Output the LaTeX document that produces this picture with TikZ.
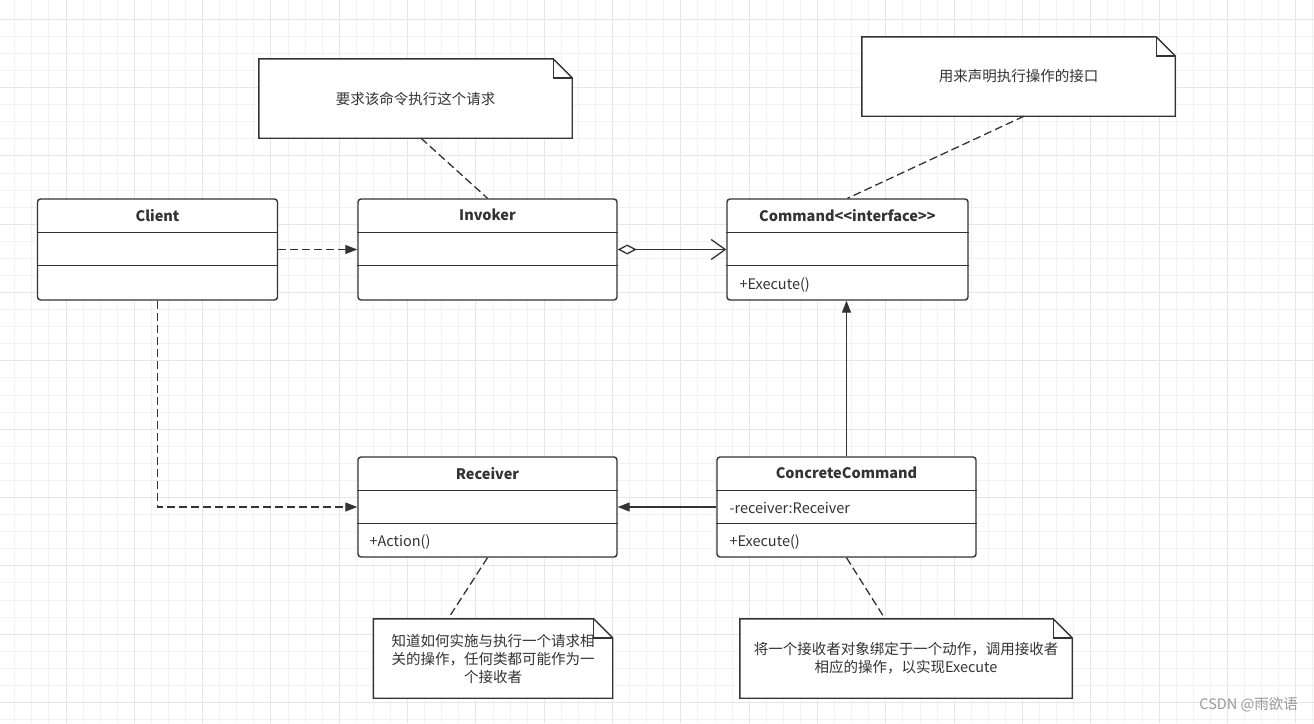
\documentclass[tikz,border=0pt]{standalone}
\usepackage{fontspec}
\setmainfont{Noto Sans CJK SC}
\usetikzlibrary{arrows.meta, calc}

\definecolor{linec}{HTML}{333333}
\definecolor{textc}{HTML}{333333}
\definecolor{gridminor}{HTML}{F2F2F2}
\definecolor{gridmajor}{HTML}{E6E6E6}

\pgfdeclarelayer{back}
\pgfsetlayers{back,main}

\begin{document}
\begin{tikzpicture}[x=1pt, y=-1pt,
    classbox/.style={draw=linec, line width=1.4pt, rounded corners=3pt, fill=white,
      inner sep=0pt, minimum height=101pt},
    divider/.style={linec, line width=1.4pt},
    titletext/.style={text=textc, font=\fontsize{14.5}{18}\selectfont\bfseries, inner sep=0pt},
    membertext/.style={anchor=west, text=textc, font=\fontsize{14.5}{18}\selectfont, inner sep=0pt},
    notebox/.style={inner sep=0pt, minimum height=79pt, align=center, text=textc,
      font=\fontsize{14.5}{18}\selectfont},
    link/.style={linec, line width=1.3pt},
    dashlink/.style={link, dash pattern=on 8pt off 4pt},
    depend/.style={dashlink, -{Triangle[length=12pt, width=9pt]}},
    realize/.style={link, -{Triangle[length=12pt, width=9pt]}},
    aggregate/.style={link, {Diamond[open, length=19pt, width=10pt]}-{Straight Barb[length=14pt, width=20pt]}}]

  \useasboundingbox (0,0) rectangle (1314,723);

  % Draw the grid
  \begin{pgfonlayer}{back}
    \fill[white] (0,0) rectangle (1314,723);
    \foreach \gx in {14.76,31.84,...,1314}
      \draw[gridminor, line width=1pt] (\gx,0) -- (\gx,723);
    \foreach \gy in {19.3,36.38,...,723}
      \draw[gridminor, line width=1pt] (0,\gy) -- (1314,\gy);
    \foreach \gx in {66,134.32,...,1314}
      \draw[gridmajor, line width=1pt] (\gx,0) -- (\gx,723);
    \foreach \gy in {19.3,87.62,...,723}
      \draw[gridmajor, line width=1pt] (0,\gy) -- (1314,\gy);
  \end{pgfonlayer}

  % Draw the classes
  \node[classbox, minimum width=240pt] (client) at (157.5,249.5) {};
  \node[classbox, minimum width=259pt] (invoker) at (487.5,249.5) {};
  \node[classbox, minimum width=241pt] (command) at (847.5,249.5) {};
  \node[classbox, minimum width=259pt, minimum height=100pt] (receiver) at (487.5,507) {};
  \node[classbox, minimum width=259pt, minimum height=100pt] (concrete) at (846.5,507) {};

  \foreach \c in {client,invoker,command,receiver,concrete} {
    \draw[divider] ($(\c.north west)+(0,34)$) -- ($(\c.north east)+(0,34)$);
    \draw[divider] ($(\c.north west)+(0,67)$) -- ($(\c.north east)+(0,67)$);
  }

  % Draw the class names and members
  \node[titletext] (clientname) at ($(client.north)+(0,17)$) {Client};
  \node[titletext] (invokername) at ($(invoker.north)+(0,17)$) {Invoker};
  \node[titletext] (commandname) at ($(command.north)+(0,17)$) {Command<{}<interface>{}>};
  \node[titletext] (receivername) at ($(receiver.north)+(0,17)$) {Receiver};
  \node[titletext] (concretename) at ($(concrete.north)+(0,17)$) {ConcreteCommand};
  \node[membertext] (commandop) at ($(command.north west)+(13,87)$) {+Execute()};
  \node[membertext] (receiverop) at ($(receiver.north west)+(12,86)$) {+Action()};
  \node[membertext] (concreteattr) at ($(concrete.north west)+(13,52)$) {-receiver:Receiver};
  \node[membertext] (concreteop) at ($(concrete.north west)+(13,86)$) {+Execute()};

  % Draw the notes
  \node[notebox, minimum width=313pt] (noteinvoker) at (415.5,98.5) {要求该命令执行这个请求};
  \node[notebox, minimum width=313pt] (notecommand) at (1018.5,76.5) {用来声明执行操作的接口};
  \node[notebox, minimum width=239pt] (notereceiver) at (493,658.5)
    {知道如何实施与执行一个请求相\\关的操作，任何类都可能作为一\\个接收者};
  \node[notebox, minimum width=332pt] (noteconcrete) at (906,658.5)
    {将一个接收者对象绑定于一个动作，调用接收者\\相应的操作，以实现Execute};

  \begin{pgfonlayer}{back}
    \foreach \n in {noteinvoker,notecommand,notereceiver,noteconcrete} {
      \draw[link, line width=1.4pt, fill=white, line join=miter]
        (\n.north west) -- ($(\n.north east)+(-19,0)$) -- ($(\n.north east)+(0,19)$)
        -- (\n.south east) -- (\n.south west) -- cycle;
      \draw[link, line width=1.4pt]
        ($(\n.north east)+(-19,0)$) -- ($(\n.north east)+(-19,19)$) -- ($(\n.north east)+(0,19)$);
    }
  \end{pgfonlayer}

  % Draw the relations
  \draw[depend] (client.east) -- (invoker.west);
  \draw[aggregate] (invoker.east) -- (command.west);
  \draw[realize] (concrete.north) -- (concrete.north |- command.south);
  \draw[realize] (concrete.west) -- (receiver.east);
  \draw[depend] (client.south) |- (receiver.west);

  % Draw the note links
  \draw[dashlink] ($(noteinvoker.south)+(5.5,0)$) -- (invoker.north);
  \draw[dashlink] ($(notecommand.south)+(5.5,0)$) -- (command.north);
  \draw[dashlink] (receiver.south) -- ($(notereceiver.north)+(-45,0)$);
  \draw[dashlink] (concrete.south) -- ($(noteconcrete.north)+(-21,0)$);

  % Draw the watermark
  \node[anchor=east, text=gray!80, font=\fontsize{14.5}{18}\selectfont, inner sep=0pt]
    (mark) at (1298,705) {CSDN @雨欲语};
\end{tikzpicture}
\end{document}
